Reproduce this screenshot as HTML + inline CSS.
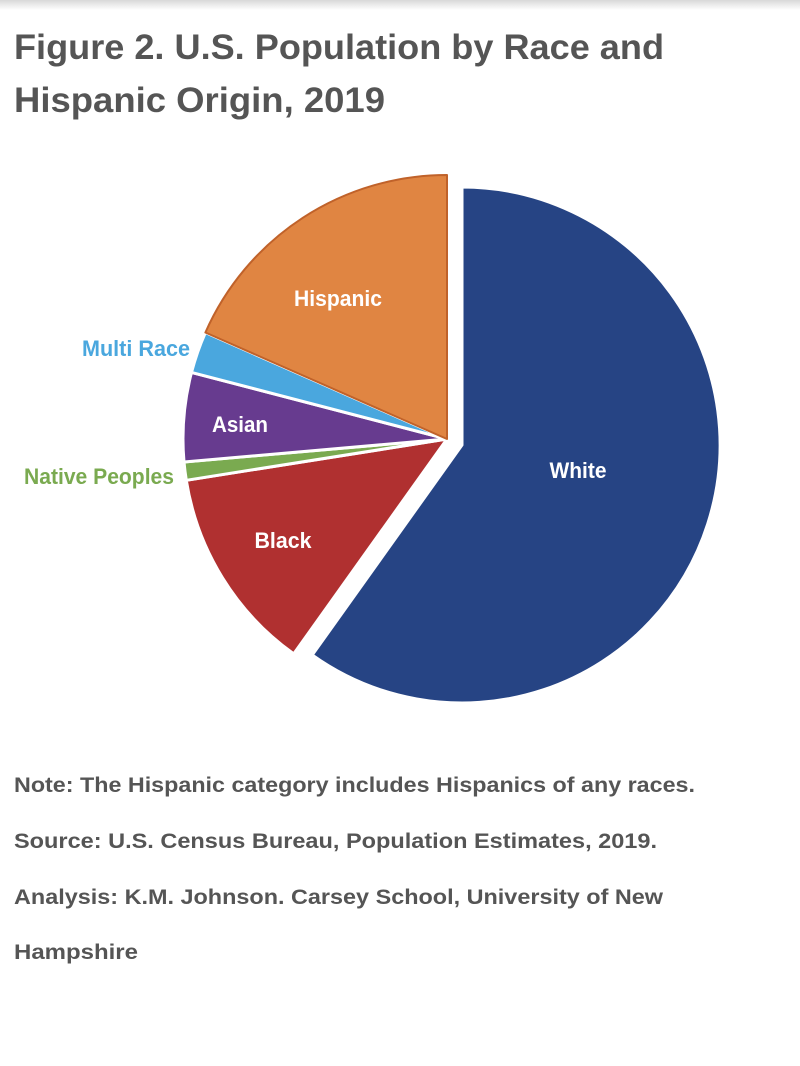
<!DOCTYPE html>
<html><head><meta charset="utf-8"><style>
html,body{margin:0;padding:0;background:#fff;}
svg{display:block;}
</style></head><body>
<svg width="800" height="1066" viewBox="0 0 800 1066" xmlns="http://www.w3.org/2000/svg">
<defs><linearGradient id="sh" x1="0" y1="0" x2="0" y2="1"><stop offset="0" stop-color="#d8d8d8"/><stop offset="1" stop-color="#fff"/></linearGradient></defs>
<rect x="0" y="0" width="800" height="10" fill="url(#sh)"/>
<g font-family="Liberation Sans, sans-serif" font-weight="bold" fill="#555">
<text x="14" y="59" font-size="35" textLength="650" lengthAdjust="spacingAndGlyphs">Figure 2. U.S. Population by Race and</text>
<text x="14" y="112" font-size="35" textLength="371" lengthAdjust="spacingAndGlyphs">Hispanic Origin, 2019</text>
<text x="14" y="792" font-size="21" textLength="681" lengthAdjust="spacingAndGlyphs">Note: The Hispanic category includes Hispanics of any races.</text>
<text x="14" y="848" font-size="21" textLength="643" lengthAdjust="spacingAndGlyphs">Source: U.S. Census Bureau, Population Estimates, 2019.</text>
<text x="14" y="904" font-size="21" textLength="649" lengthAdjust="spacingAndGlyphs">Analysis: K.M. Johnson. Carsey School, University of New</text>
<text x="14" y="959" font-size="21" textLength="124" lengthAdjust="spacingAndGlyphs">Hampshire</text>
</g>
<g stroke="#fff" stroke-width="3" stroke-linejoin="round">
<path d="M462,445 L462,187 A258,258 0 1 1 312.2,655 Z" fill="#264484"/>
<path d="M447,439 L293.7,653.9 A264,264 0 0 1 186.3,480.3 Z" fill="#b03030"/>
<path d="M447,439 L186.3,480.3 A264,264 0 0 1 184,462 Z" fill="#7aaa50"/>
<path d="M447,439 L184,462 A264,264 0 0 1 191.5,372.4 Z" fill="#673b8f"/>
<path d="M447,439 L191.5,372.4 A264,264 0 0 1 205.4,332.5 Z" fill="#4aa7de"/>
<path d="M447,439 L205.4,332.5 A264,264 0 0 1 447,175 Z" fill="#e08542" stroke="#c0622a" stroke-width="2"/>
</g>
<g font-family="Liberation Sans, sans-serif" font-weight="bold" font-size="22" text-anchor="middle">
<text x="578" y="478" fill="#fff" textLength="57" lengthAdjust="spacingAndGlyphs">White</text>
<text x="338" y="306" fill="#fff" textLength="88" lengthAdjust="spacingAndGlyphs">Hispanic</text>
<text x="240" y="432" fill="#fff" textLength="56" lengthAdjust="spacingAndGlyphs">Asian</text>
<text x="283" y="548" fill="#fff" textLength="57" lengthAdjust="spacingAndGlyphs">Black</text>
<text x="136" y="356" fill="#4aa7de" textLength="108" lengthAdjust="spacingAndGlyphs">Multi Race</text>
<text x="99" y="484" fill="#7aaa50" textLength="150" lengthAdjust="spacingAndGlyphs">Native Peoples</text>
</g>
</svg>
</body></html>
